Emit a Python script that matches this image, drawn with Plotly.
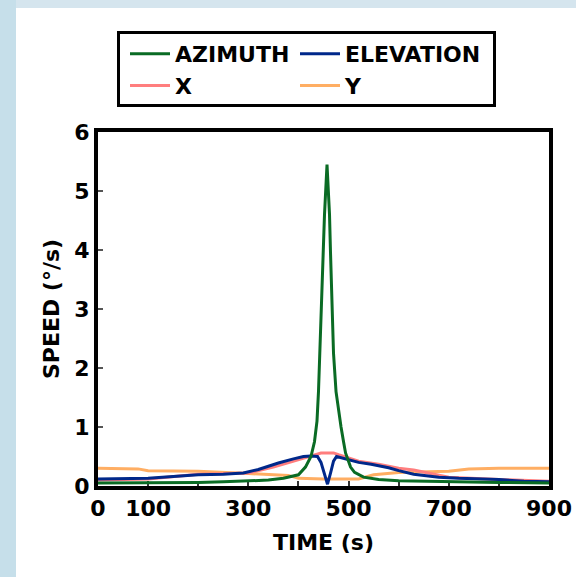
import plotly.graph_objects as go

# Angular speed of the mount axes over a pass
az_time = [0, 100, 200, 250, 300, 340, 370, 400, 414, 425, 432, 437, 440, 443, 448, 452, 457,
           462, 464, 470, 475, 480, 485, 490, 494, 504, 512, 530, 560, 600, 700, 800, 900]
az_speed = [0.05, 0.05, 0.06, 0.07, 0.08, 0.10, 0.13, 0.19, 0.32, 0.50, 0.75, 1.10, 1.60, 2.40, 3.66, 4.60, 5.45,
            4.60, 3.95, 2.25, 1.60, 1.25, 1.00, 0.75, 0.56, 0.32, 0.23, 0.15, 0.11, 0.09, 0.07, 0.06, 0.05]

el_time = [0, 100, 150, 200, 250, 290, 320, 340, 360, 390, 410, 425, 438, 445, 452, 458,
           464, 470, 476, 500, 520, 545, 580, 600, 630, 680, 720, 800, 850, 900]
el_speed = [0.12, 0.13, 0.16, 0.19, 0.20, 0.22, 0.28, 0.34, 0.39, 0.46, 0.50, 0.51, 0.50, 0.40, 0.22, 0.03,
            0.22, 0.42, 0.50, 0.45, 0.40, 0.37, 0.31, 0.26, 0.20, 0.15, 0.13, 0.11, 0.08, 0.07]

x_time = [0, 100, 200, 300, 350, 400, 430, 445, 457, 470, 480, 520, 560, 600, 630, 700, 800, 900]
x_speed = [0.10, 0.12, 0.20, 0.22, 0.32, 0.45, 0.53, 0.56, 0.56, 0.56, 0.53, 0.42, 0.37, 0.30, 0.27, 0.15, 0.11, 0.08]

y_time = [0, 80, 100, 200, 300, 380, 400, 450, 520, 550, 600, 700, 740, 800, 900]
y_speed = [0.30, 0.29, 0.26, 0.25, 0.21, 0.18, 0.13, 0.12, 0.12, 0.19, 0.23, 0.25, 0.29, 0.30, 0.30]

x_tick_vals = [0, 100, 200, 300, 400, 500, 600, 700, 800, 900]
x_tick_text = ["0", "100", "", "300", "", "500", "", "700", "", "900"]
y_tick_vals = [0, 1, 2, 3, 4, 5, 6]

W, H = 576, 577
L, R, T, B = 98, 549, 132, 486  # plot area edges in pixels


def px(xp):
    return (xp - L) / (R - L)


def py(yp):
    return (B - yp) / (B - T)


FONT = "DejaVu Sans"
SIZE = 22
bold = dict(family=FONT, size=SIZE, color="black", weight="bold")

fig = go.Figure()
# name, times, speeds, colour, legend column
series = [
    ("AZIMUTH", az_time, az_speed, "#0a6b24", "legend"),
    ("ELEVATION", el_time, el_speed, "#00288a", "legend2"),
    ("X", x_time, x_speed, "#ff7e7e", "legend"),
    ("Y", y_time, y_speed, "#ffae63", "legend2"),
]
for name, t, v, c, leg in reversed(series):
    fig.add_trace(go.Scatter(x=t, y=v, mode="lines", name=name, legend=leg,
                             line=dict(color=c, width=3)))

legend_common = dict(
    orientation="v", yanchor="top", xanchor="left", y=py(33),
    bgcolor="rgba(0,0,0,0)", borderwidth=0, font=bold,
    itemwidth=40, traceorder="reversed", itemclick=False, tracegroupgap=0,
)

fig.update_layout(
    width=W, height=H,
    margin=dict(l=L, r=W - R, t=T, b=H - B, pad=0, autoexpand=False),
    paper_bgcolor="white", plot_bgcolor="white",
    showlegend=True,
    legend=dict(x=px(125), **legend_common),
    legend2=dict(x=px(295), **legend_common),
    shapes=[
        dict(type="rect", xref="paper", yref="paper", layer="below",
             x0=px(0), x1=px(16), y0=py(H), y1=py(0),
             fillcolor="#c6dfea", line=dict(width=0)),
        dict(type="rect", xref="paper", yref="paper", layer="below",
             x0=px(16), x1=px(W), y0=py(8), y1=py(0),
             fillcolor="#d5e5ee", line=dict(width=0)),
        # legend frame
        dict(type="rect", xref="paper", yref="paper", layer="above",
             x0=px(118.5), x1=px(494.5), y0=py(105.5), y1=py(32.5),
             fillcolor="white", line=dict(color="black", width=3)),
    ],
)

fig.update_xaxes(
    range=[0, 900], tickvals=x_tick_vals, ticktext=x_tick_text, automargin=False,
    ticks="inside", ticklen=5, tickwidth=2, tickcolor="#333",
    showline=True, linecolor="black", linewidth=4, mirror=True,
    showgrid=False, zeroline=False, layer="below traces",
    tickfont=bold,
    title=dict(text="TIME (s)", standoff=15, font=bold),
)
fig.update_yaxes(
    range=[0, 6], tickvals=y_tick_vals, automargin=False,
    ticks="inside", ticklen=5, tickwidth=2, tickcolor="#555",
    showline=True, linecolor="black", linewidth=4, mirror=True,
    showgrid=False, zeroline=False, layer="below traces",
    tickfont=bold,
    title=dict(text="SPEED (°/s)", standoff=10, font=bold),
)

fig.write_html("out.html")
